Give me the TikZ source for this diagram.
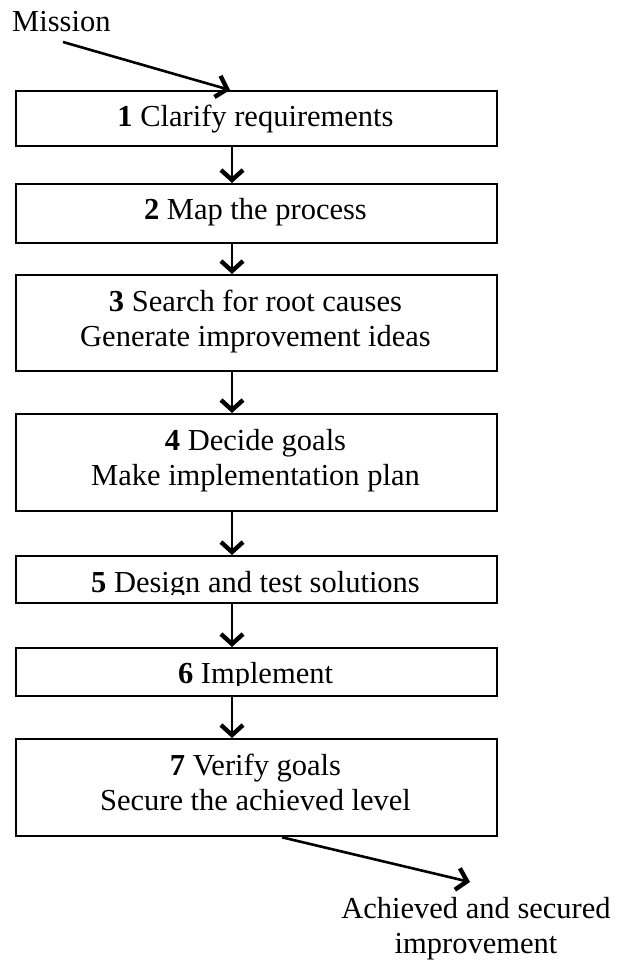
\documentclass[tikz,border=0pt]{standalone}
\usepackage{fontspec}
\setmainfont{Liberation Serif}
\usetikzlibrary{arrows.meta}
\begin{document}
\begin{tikzpicture}[x=1pt,y=-1pt,
  stepbox/.style={draw, line width=2.3pt, rectangle, minimum width=481pt,
    anchor=north west, inner sep=0pt},
  lbl/.style={font=\fontsize{30.5}{35}\selectfont, anchor=base, inner sep=0pt},
  flow/.style={line width=2.6pt, line cap=butt,
    -{Straight Barb[length=10pt,width=22pt,line width=4.4pt]}}]
\useasboundingbox (0,0) rectangle (622,965);

% process steps
\node[stepbox, minimum height=55pt] (b1) at (15,90) {};
\node[stepbox, minimum height=59pt] (b2) at (15,183) {};
\node[stepbox, minimum height=96pt] (b3) at (15,274) {};
\node[stepbox, minimum height=97pt] (b4) at (15,413) {};
\node[stepbox, minimum height=47pt] (b5) at (15,555) {};
\node[stepbox, minimum height=48pt] (b6) at (15,647) {};
\node[stepbox, minimum height=97pt] (b7) at (15,738) {};

% step labels
\node[lbl] (t1) at (255.5,127) {\textbf{1} Clarify requirements};
\node[lbl] (t2) at (255.5,220) {\textbf{2} Map the process};
\node[lbl] (t3a) at (255.5,311) {\textbf{3} Search for root causes};
\node[lbl] (t3b) at (255.5,346) {Generate improvement ideas};
\node[lbl] (t4a) at (255.5,450) {\textbf{4} Decide goals};
\node[lbl] (t4b) at (255.5,485) {Make implementation plan};
\begin{scope}
  \clip (15,555) rectangle (496,594);
  \node[lbl] (t5) at (255.5,592) {\textbf{5} Design and test solutions};
\end{scope}
\begin{scope}
  \clip (15,647) rectangle (496,685);
  \node[lbl] (t6) at (255.5,683) {\textbf{6} Implement};
\end{scope}
\node[lbl] (t7a) at (255.5,775) {\textbf{7} Verify goals};
\node[lbl] (t7b) at (255.5,810) {Secure the achieved level};

% input and output
\node[lbl, anchor=base west] (mission) at (12,32) {Mission};
\node[lbl] (res1) at (476,918) {Achieved and secured};
\node[lbl] (res2) at (476,953) {improvement};

% connectors
\coordinate (ax) at (232,0);
\coordinate (m0) at (63,42);
\coordinate (mx) at (230,0);
\coordinate (ox) at (282,0);
\coordinate (out) at (470,882);
\draw[flow] (m0) -- (b1.north -| mx);
\draw[flow] (b1.south -| ax) -- (b2.north -| ax);
\draw[flow] (b2.south -| ax) -- (b3.north -| ax);
\draw[flow] (b3.south -| ax) -- (b4.north -| ax);
\draw[flow] (b4.south -| ax) -- (b5.north -| ax);
\draw[flow] (b5.south -| ax) -- (b6.north -| ax);
\draw[flow] (b6.south -| ax) -- (b7.north -| ax);
\draw[flow] (b7.south -| ox) -- (out);
\end{tikzpicture}
\end{document}
